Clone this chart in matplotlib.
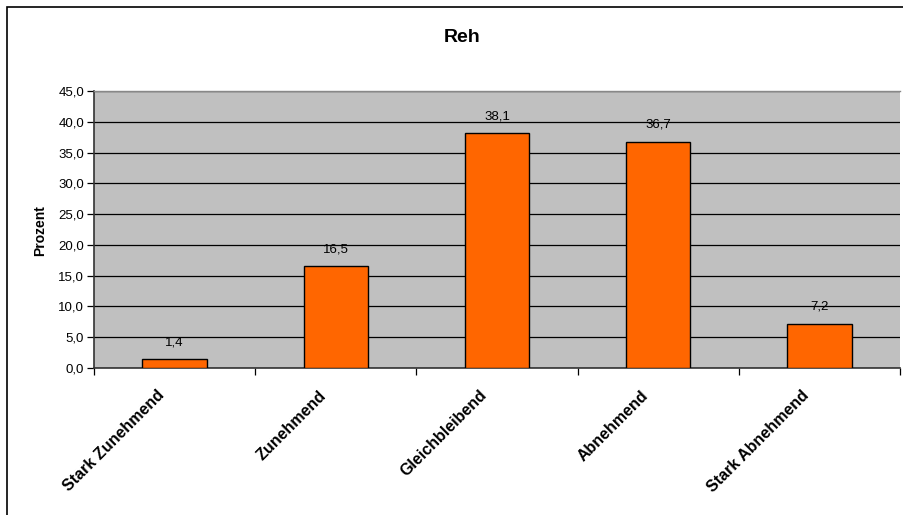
import matplotlib
matplotlib.use("Agg")
import matplotlib.pyplot as plt
from matplotlib.patches import Rectangle
from matplotlib.ticker import MultipleLocator, FuncFormatter, FixedLocator
import numpy as np

plt.rcParams['font.family'] = ['Liberation Sans', 'DejaVu Sans']

categories = ["Stark Zunehmend", "Zunehmend", "Gleichbleibend", "Abnehmend", "Stark Abnehmend"]
values = [1.4, 16.5, 38.1, 36.7, 7.2]
title = "Reh"
ylabel = "Prozent"

W, H = 904, 515
fig = plt.figure(figsize=(W / 100, H / 100), dpi=100)

# outer chart frame (runs past the right and bottom edges)
fig.patches.append(Rectangle((7 / W, -0.05), 1.2, 1 - 7 / H + 0.05,
                             transform=fig.transFigure, fill=False,
                             edgecolor='black', linewidth=1.2, zorder=0))

ax = fig.add_axes([94 / W, 1 - 368 / H, (900 - 94) / W, (368 - 91) / H])
ax.set_facecolor('#C0C0C0')

x = np.arange(len(categories))
bars = ax.bar(x, values, width=0.4, color='#FF6600', edgecolor='black',
              linewidth=1.0, zorder=3)

ax.set_xlim(-0.5, len(categories) - 0.5)
ax.set_ylim(0, 45)

ax.yaxis.set_major_locator(MultipleLocator(5))
ax.yaxis.set_major_formatter(FuncFormatter(lambda v, p: f"{v:.1f}".replace('.', ',')))
ax.grid(axis='y', color='black', linewidth=0.9, zorder=1)
ax.tick_params(axis='y', direction='out', length=5, width=0.9, labelsize=9.5, pad=2)

# ticks at category boundaries, labels at category centres
ax.xaxis.set_major_locator(FixedLocator(np.arange(len(categories) + 1) - 0.5))
ax.tick_params(axis='x', which='major', direction='out', length=5, width=0.9, labelbottom=False)
for xi, name in zip(x, categories):
    ax.annotate(name, xy=(xi, 0), xycoords=('data', 'axes fraction'),
                xytext=(-9, -18), textcoords='offset points',
                rotation=45, ha='right', va='center', rotation_mode='anchor',
                fontsize=11.5, fontweight='bold')

for spine in ['left', 'bottom']:
    ax.spines[spine].set_color('#333333')
    ax.spines[spine].set_linewidth(1.2)
ax.spines['top'].set_color('#888888')
ax.spines['top'].set_linewidth(1.0)
ax.spines['right'].set_visible(False)

for b, v in zip(bars, values):
    ax.annotate(f"{v:.1f}".replace('.', ','), xy=(b.get_x() + b.get_width() / 2, v),
                xytext=(0, 8), textcoords='offset points', ha='center', va='bottom',
                fontsize=9.5, zorder=4)

fig.text(462 / W, 1 - 37 / H, title, ha='center', va='center', fontsize=14, fontweight='bold')
fig.text(40 / W, 1 - 231 / H, ylabel, ha='center', va='center', rotation=90,
         fontsize=10, fontweight='bold')

fig.savefig("out.png", dpi=100)
